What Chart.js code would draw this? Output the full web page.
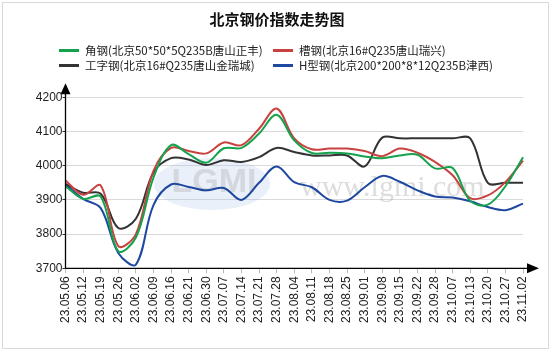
<!DOCTYPE html>
<html>
<head>
<meta charset="utf-8">
<script src="https://cdn.jsdelivr.net/npm/chart.js@4"></script>
<style>
  html, body { margin:0; padding:0; background:#fff; }
  #wrap { position:relative; width:554px; height:355px; overflow:hidden; }
  #frame { position:absolute; left:2px; top:2px; width:547px; height:347px; border:1px solid #d9d9d9; box-sizing:border-box; pointer-events:none; }
  #title { position:absolute; left:0; top:9px; width:554px; text-align:center; font:bold 15px/20px "Noto Sans CJK SC", sans-serif; color:#111; }
  .sw { position:absolute; width:20px; height:3px; }
  .lt { position:absolute; font:11.5px/14px "Noto Sans CJK SC", sans-serif; color:#222; white-space:nowrap; }
  canvas { position:absolute; left:0; top:0; }
</style>
</head>
<body>
<div id="wrap">
  <canvas id="c" width="554" height="355"></canvas>
  <div id="title">北京钢价指数走势图</div>
  <div id="legend"></div>
  <div id="frame"></div>
</div>
<script>
const labels = ['23.05.06','23.05.12','23.05.19','23.05.26','23.06.02','23.06.09','23.06.16','23.06.21','23.06.30','23.07.07','23.07.14','23.07.21','23.07.28','23.08.04','23.08.11','23.08.18','23.08.25','23.09.01','23.09.08','23.09.15','23.09.22','23.09.28','23.10.07','23.10.13','23.10.20','23.10.27','23.11.02'];

const angleSteel   = [3940,3903,3910,3750,3790,3965,4060,4034,4009,4051,4052,4094,4149,4074,4037,4038,4036,4027,4022,4030,4032,3992,3993,3897,3886,3940,4025];
const channelSteel = [3957,3915,3942,3765,3800,3985,4052,4043,4036,4068,4060,4108,4167,4080,4048,4050,4050,4043,4028,4050,4038,4011,3972,3905,3913,3952,4015];
const iBeamSteel   = [3947,3921,3918,3818,3845,3980,4022,4018,4002,4016,4011,4025,4052,4040,4030,4030,4030,3998,4082,4080,4080,4080,4080,4080,3950,3950,3950];
const hBeamSteel   = [3945,3903,3876,3745,3711,3885,3945,3938,3928,3935,3900,3950,3998,3952,3937,3900,3898,3937,3970,3953,3928,3910,3907,3896,3879,3870,3889];

const seriesNames = ['角钢(北京50*50*5Q235B唐山正丰)','槽钢(北京16#Q235唐山瑞兴)','工字钢(北京16#Q235唐山金瑞城)','H型钢(北京200*200*8*12Q235B津西)'];
const seriesColors = ['#14a24c','#c8423f','#333333','#1f48a0'];
const yTicks = [3700,3800,3900,4000,4100,4200];

// HTML legend
const legendPos = [[59,50],[273,50],[59,65],[273,65]];
const legEl = document.getElementById('legend');
seriesNames.forEach((n,i)=>{
  const [x,y] = legendPos[i];
  const sw = document.createElement('div');
  sw.className='sw'; sw.style.left=x+'px'; sw.style.top=(y-1.5)+'px'; sw.style.background=seriesColors[i];
  legEl.appendChild(sw);
  const t = document.createElement('div');
  t.className='lt'; t.style.left=(x+26)+'px'; t.style.top=(y-7)+'px'; t.textContent=n;
  legEl.appendChild(t);
});

const axesPlugin = {
  id:'axesArrows',
  beforeDatasetsDraw(chart){
    const ctx = chart.ctx;
    ctx.save();
    // watermark
    ctx.fillStyle='rgba(170,195,230,0.25)';
    ctx.beginPath(); ctx.ellipse(212,184,58,26,0,0,Math.PI*2); ctx.fill();
    ctx.font='bold 34px "Liberation Sans", sans-serif';
    ctx.fillStyle='rgba(160,160,160,0.30)';
    ctx.textAlign='center'; ctx.textBaseline='middle';
    ctx.fillText('LGMI',214,183);
    ctx.font='30px "Liberation Serif", serif';
    ctx.fillStyle='rgba(170,170,170,0.40)';
    ctx.textAlign='left'; ctx.textBaseline='alphabetic';
    ctx.fillText('www.lgmi.com',300,196);
    ctx.restore();
  },
  afterDraw(chart){
    const {ctx, chartArea:a} = chart;
    ctx.save();
    ctx.strokeStyle='#000'; ctx.fillStyle='#000'; ctx.lineWidth=1.3;
    ctx.beginPath();
    ctx.moveTo(a.left, a.bottom); ctx.lineTo(a.left, a.top-4);
    ctx.moveTo(a.left, a.bottom); ctx.lineTo(a.right+5, a.bottom);
    ctx.stroke();
    ctx.beginPath();
    ctx.moveTo(a.left, a.top-14); ctx.lineTo(a.left-5, a.top-3); ctx.lineTo(a.left+5, a.top-3); ctx.closePath(); ctx.fill();
    ctx.beginPath();
    ctx.moveTo(a.right+16, a.bottom); ctx.lineTo(a.right+4, a.bottom-5); ctx.lineTo(a.right+4, a.bottom+5); ctx.closePath(); ctx.fill();
    ctx.restore();
  }
};

const data = {
  labels,
  datasets: [angleSteel, channelSteel, iBeamSteel, hBeamSteel].map((d,i)=>({
    label: seriesNames[i], data: d, borderColor: seriesColors[i], backgroundColor: seriesColors[i],
    borderWidth: 2, pointRadius: 0, tension: 0.35, fill: false
  }))
};

new Chart(document.getElementById('c'), {
  type:'line',
  data,
  plugins:[axesPlugin],
  options:{
    responsive:false, animation:false, devicePixelRatio:1,
    layout:{ padding:{ left:0, top:97.3, right:31, bottom:0 } },
    plugins:{ legend:{display:false}, title:{display:false}, tooltip:{enabled:false} },
    scales:{
      x:{
        offset:false,
        border:{display:false},
        grid:{ drawOnChartArea:false, drawTicks:true, tickLength:5, tickColor:'#bbbbbb' },
        ticks:{ autoSkip:false, minRotation:90, maxRotation:90, padding:3, color:'#222', font:{family:'"Liberation Sans", Arial, sans-serif', size:12} },
        afterFit(s){ s.height = 355 - 268.3; }
      },
      y:{
        min:3700, max:4200,
        border:{display:false},
        grid:{ color:'#d9d9d9', lineWidth:1, tickLength:3, tickColor:'#333' },
        ticks:{ stepSize:100, padding:0, color:'#222', font:{family:'"Liberation Sans", Arial, sans-serif', size:12},
          callback:(v)=> yTicks.includes(v) ? String(v) : '' },
        afterFit(s){ s.width = 65.5; }
      }
    }
  }
});
</script>
</body>
</html>
